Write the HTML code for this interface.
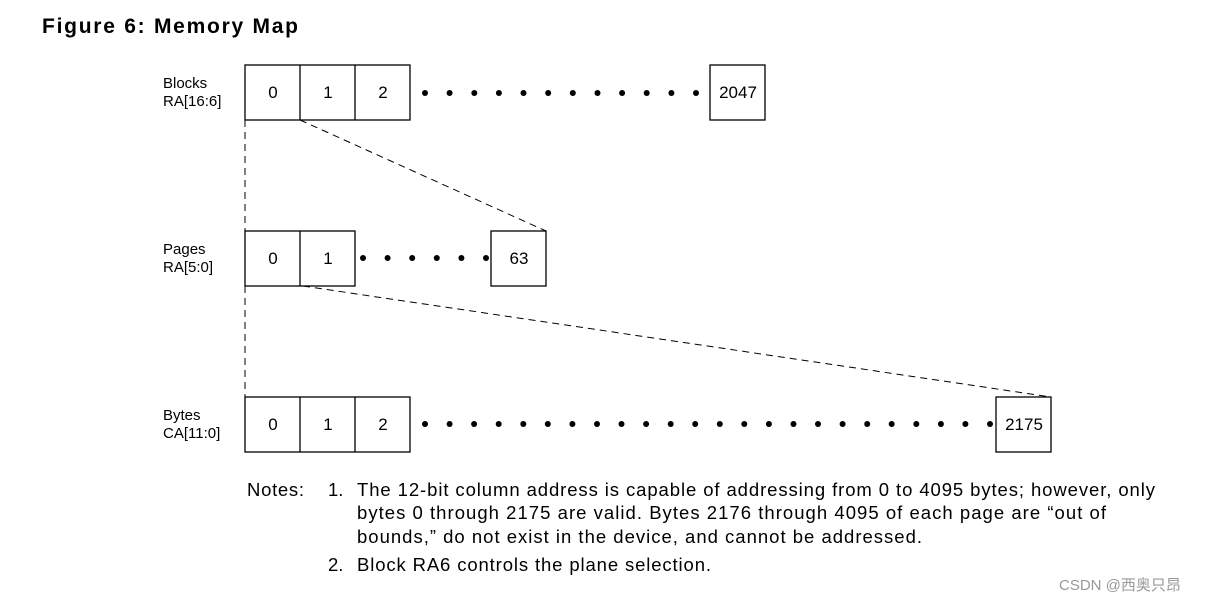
<!DOCTYPE html>
<html><head><meta charset="utf-8"><style>html,body{margin:0;padding:0;background:#fff}svg{display:block}</style></head>
<body>
<svg width="1209" height="603" xmlns="http://www.w3.org/2000/svg" font-family="Liberation Sans, sans-serif">
<text x="42" y="33" font-size="21" font-weight="bold" textLength="256">Figure 6: Memory Map</text>
<g font-size="15" fill="#000">
<text x="163" y="88">Blocks</text><text x="163" y="106">RA[16:6]</text>
<text x="163" y="254">Pages</text><text x="163" y="272">RA[5:0]</text>
<text x="163" y="420">Bytes</text><text x="163" y="438">CA[11:0]</text>
</g>
<g fill="none" stroke="#000" stroke-width="1.3">
<rect x="245" y="65" width="165" height="55"/><line x1="300" y1="65" x2="300" y2="120"/><line x1="355" y1="65" x2="355" y2="120"/>
<rect x="710" y="65" width="55" height="55"/>
<rect x="245" y="231" width="110" height="55"/><line x1="300" y1="231" x2="300" y2="286"/>
<rect x="491" y="231" width="55" height="55"/>
<rect x="245" y="397" width="165" height="55"/><line x1="300" y1="397" x2="300" y2="452"/><line x1="355" y1="397" x2="355" y2="452"/>
<rect x="996" y="397" width="55" height="55"/>
</g>
<g stroke="#000" stroke-width="1" stroke-dasharray="7,5" fill="none">
<line x1="245" y1="120" x2="245" y2="231"/>
<line x1="245" y1="286" x2="245" y2="397"/>
<line x1="300" y1="120" x2="546" y2="231"/>
<line x1="303" y1="286" x2="1051" y2="397"/>
</g>
<g font-size="17" text-anchor="middle">
<text x="273" y="98">0</text><text x="328" y="98">1</text><text x="383" y="98">2</text><text x="738" y="98">2047</text>
<text x="273" y="264">0</text><text x="328" y="264">1</text><text x="519" y="264">63</text>
<text x="273" y="430">0</text><text x="328" y="430">1</text><text x="383" y="430">2</text><text x="1024" y="430">2175</text>
</g>
<g fill="#000">
<circle cx="425" cy="93" r="3"/><circle cx="449.6" cy="93" r="3"/><circle cx="474.3" cy="93" r="3"/><circle cx="498.9" cy="93" r="3"/><circle cx="523.5" cy="93" r="3"/><circle cx="548.2" cy="93" r="3"/><circle cx="572.8" cy="93" r="3"/><circle cx="597.5" cy="93" r="3"/><circle cx="622.1" cy="93" r="3"/><circle cx="646.7" cy="93" r="3"/><circle cx="671.4" cy="93" r="3"/><circle cx="696" cy="93" r="3"/>
<circle cx="363" cy="258" r="3"/><circle cx="387.6" cy="258" r="3"/><circle cx="412.2" cy="258" r="3"/><circle cx="436.8" cy="258" r="3"/><circle cx="461.4" cy="258" r="3"/><circle cx="486" cy="258" r="3"/>
<circle cx="425" cy="424" r="3"/><circle cx="449.6" cy="424" r="3"/><circle cx="474.1" cy="424" r="3"/><circle cx="498.7" cy="424" r="3"/><circle cx="523.3" cy="424" r="3"/><circle cx="547.8" cy="424" r="3"/><circle cx="572.4" cy="424" r="3"/><circle cx="597" cy="424" r="3"/><circle cx="621.5" cy="424" r="3"/><circle cx="646.1" cy="424" r="3"/><circle cx="670.7" cy="424" r="3"/><circle cx="695.2" cy="424" r="3"/><circle cx="719.8" cy="424" r="3"/><circle cx="744.3" cy="424" r="3"/><circle cx="768.9" cy="424" r="3"/><circle cx="793.5" cy="424" r="3"/><circle cx="818" cy="424" r="3"/><circle cx="842.6" cy="424" r="3"/><circle cx="867.2" cy="424" r="3"/><circle cx="891.7" cy="424" r="3"/><circle cx="916.3" cy="424" r="3"/><circle cx="940.9" cy="424" r="3"/><circle cx="965.4" cy="424" r="3"/><circle cx="990" cy="424" r="3"/>
</g>
<g font-size="18.5" fill="#000">
<text x="247" y="496" textLength="57">Notes:</text>
<text x="328" y="496">1.</text>
<text x="357" y="496" textLength="798">The 12-bit column address is capable of addressing from 0 to 4095 bytes; however, only</text>
<text x="357" y="519" textLength="749">bytes 0 through 2175 are valid. Bytes 2176 through 4095 of each page are “out of</text>
<text x="357" y="543" textLength="565">bounds,” do not exist in the device, and cannot be addressed.</text>
<text x="328" y="571">2.</text>
<text x="357" y="571" textLength="354">Block RA6 controls the plane selection.</text>
</g>
<text x="1059" y="590" font-size="15" fill="#999" font-family="Liberation Sans, Noto Sans CJK SC, sans-serif">CSDN @西奥只昂</text>
</svg>
</body></html>
